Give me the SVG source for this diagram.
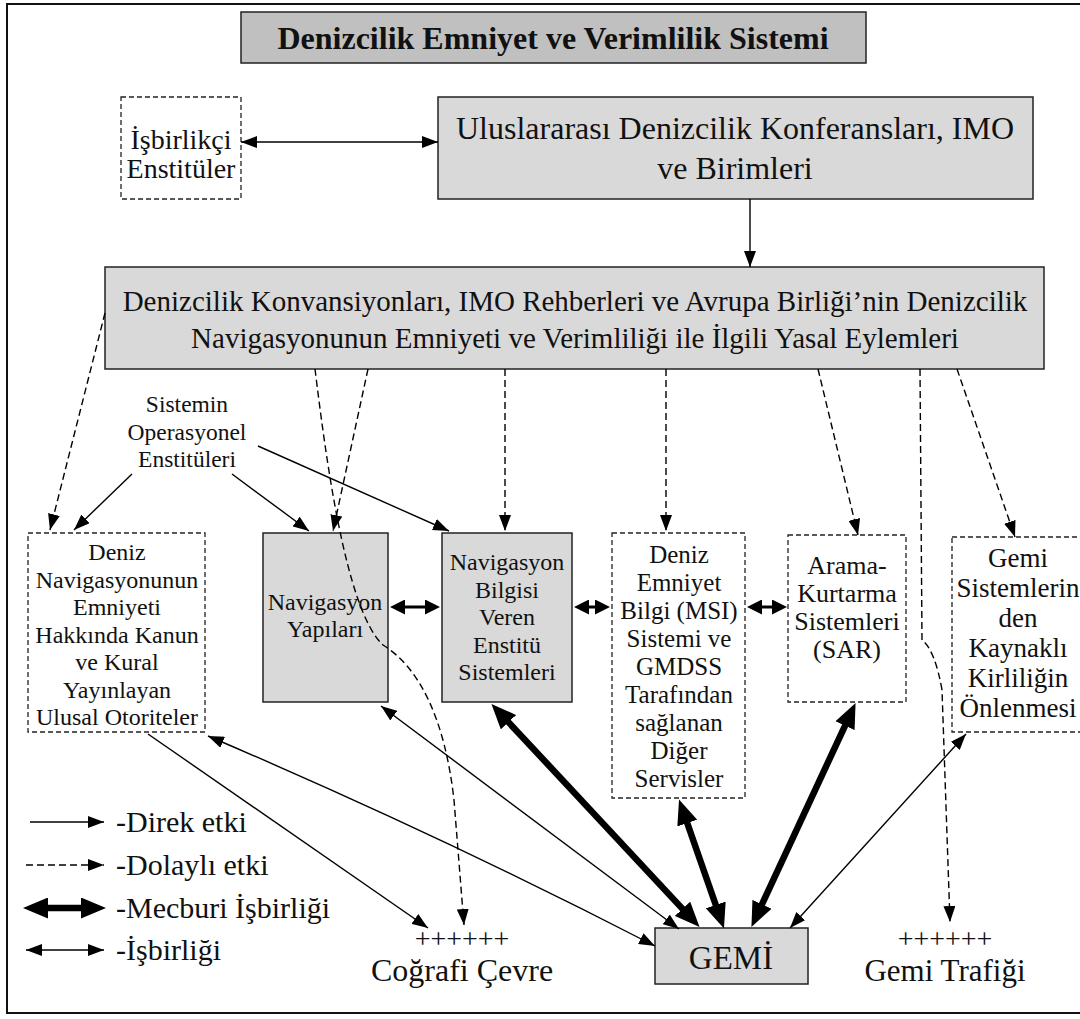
<svg xmlns="http://www.w3.org/2000/svg" width="1080" height="1019" viewBox="0 0 1080 1019">
<style>
text{font-family:"Liberation Serif","Times New Roman",serif;fill:#111;text-anchor:middle}
.t24{font-size:24px}.t25{font-size:25px}.t26{font-size:26px}.t27{font-size:27px}.t28{font-size:28px}.t29{font-size:29px}.t32{font-size:32px}
.box{fill:#d9d9d9;stroke:#222;stroke-width:1.5}
.dbox{fill:#fff;stroke:#222;stroke-width:1.3;stroke-dasharray:5 3}
.ln{fill:none;stroke:#000;stroke-width:1.4}
.dl{fill:none;stroke:#000;stroke-width:1.4;stroke-dasharray:7 4}
.thk{fill:none;stroke:#000;stroke-width:6.5}
.med{fill:none;stroke:#000;stroke-width:3}
.lg{text-anchor:start;font-size:30px}
</style>
<defs>
<marker id="a" viewBox="0 0 16 12" markerWidth="16" markerHeight="12" refX="16" refY="6" orient="auto-start-reverse" markerUnits="userSpaceOnUse"><path d="M0,0 L16,6 L0,12 z"/></marker>
<marker id="m" viewBox="0 0 15 15" markerWidth="15" markerHeight="15" refX="11" refY="7.5" orient="auto-start-reverse" markerUnits="userSpaceOnUse"><path d="M0,0 L15,7.5 L0,15 z"/></marker>
<marker id="k" viewBox="0 0 25 21" markerWidth="25" markerHeight="21" refX="12" refY="10.5" orient="auto-start-reverse" markerUnits="userSpaceOnUse"><path d="M0,0 L25,10.5 L0,21 z"/></marker>
</defs>
<rect x="7" y="4" width="1090" height="1009" fill="#fff" stroke="#111" stroke-width="2"/>

<g id="title"><rect x="241" y="12" width="625" height="51" fill="#c0c0c0" stroke="#222" stroke-width="1.5"/><text x="553" y="49" style="font-size:32px;font-weight:bold">Denizcilik Emniyet ve Verimlilik Sistemi</text></g>

<g id="isbirlikci"><rect class="dbox" x="121" y="97" width="120" height="102"/><text class="t28" x="181" y="149">İşbirlikçi</text><text class="t28" x="181" y="178">Enstitüler</text></g>

<g id="uluslararasi"><rect class="box" x="438" y="97" width="595" height="102"/><text class="t32" x="735" y="139">Uluslararası Denizcilik Konferansları, IMO</text><text class="t32" x="735" y="179">ve Birimleri</text></g>

<g id="konvansiyon"><rect class="box" x="105" y="267" width="939" height="102"/><text class="t29" x="575" y="311">Denizcilik Konvansiyonları, IMO Rehberleri ve Avrupa Birliği’nin Denizcilik</text><text class="t29" x="575" y="348">Navigasyonunun Emniyeti ve Verimliliği ile İlgili Yasal Eylemleri</text></g>

<g id="sistemin" style="font-size:23.5px"><text x="187" y="412">Sistemin</text><text x="187" y="440">Operasyonel</text><text x="187" y="467">Enstitüleri</text></g>

<g id="ulusal-otoriteler"><rect class="dbox" x="28" y="533" width="177" height="199"/>
<text class="t24" x="117" y="560">Deniz</text><text class="t24" x="117" y="587.5">Navigasyonunun</text><text class="t24" x="117" y="615">Emniyeti</text><text class="t24" x="117" y="642.5">Hakkında Kanun</text><text class="t24" x="117" y="670">ve Kural</text><text class="t24" x="117" y="697.5">Yayınlayan</text><text class="t24" x="117" y="725">Ulusal Otoriteler</text></g>

<g id="nav-yapilari"><rect class="box" x="263" y="533" width="125" height="169"/><text class="t24" x="325" y="610">Navigasyon</text><text class="t24" x="325" y="637">Yapıları</text></g>

<g id="nav-bilgisi"><rect class="box" x="442" y="533" width="130" height="169"/><text class="t24" x="507" y="570">Navigasyon</text><text class="t24" x="507" y="597.5">Bilgisi</text><text class="t24" x="507" y="625">Veren</text><text class="t24" x="507" y="652.5">Enstitü</text><text class="t24" x="507" y="680">Sistemleri</text></g>

<g id="msi"><rect class="dbox" x="612" y="533" width="133" height="265"/>
<text class="t25" x="679" y="563">Deniz</text><text class="t25" x="679" y="591">Emniyet</text><text class="t25" x="679" y="619">Bilgi (MSI)</text><text class="t25" x="679" y="647">Sistemi ve</text><text class="t25" x="679" y="675">GMDSS</text><text class="t25" x="679" y="703">Tarafından</text><text class="t25" x="679" y="731">sağlanan</text><text class="t25" x="679" y="759">Diğer</text><text class="t25" x="679" y="787">Servisler</text></g>

<g id="sar"><rect class="dbox" x="788" y="535" width="118" height="167"/><text class="t26" x="847" y="574">Arama-</text><text class="t26" x="847" y="602">Kurtarma</text><text class="t26" x="847" y="630">Sistemleri</text><text class="t26" x="847" y="658">(SAR)</text></g>

<g id="kirlilik"><rect class="dbox" x="952" y="537" width="140" height="195"/><text class="t27" x="1018" y="567">Gemi</text><text class="t27" x="1018" y="597">Sistemlerin</text><text class="t27" x="1018" y="627">den</text><text class="t27" x="1018" y="657">Kaynaklı</text><text class="t27" x="1018" y="687">Kirliliğin</text><text class="t27" x="1018" y="717">Önlenmesi</text></g>

<g id="gemi"><rect class="box" x="655" y="928" width="153" height="56"/><text x="731" y="969" style="font-size:33px">GEMİ</text></g>

<g id="cografi"><text class="t28" x="462" y="948">++++++</text><text class="t32" x="462" y="981">Coğrafi Çevre</text></g>

<g id="trafik"><text class="t28" x="945" y="948">++++++</text><text x="945" y="981" style="font-size:31px">Gemi Trafiği</text></g>

<g id="connectors">
<path class="ln" marker-start="url(#a)" marker-end="url(#a)" d="M241,142 L438,142"/>
<path class="ln" marker-end="url(#a)" d="M750,199 L750,267"/>
<path class="ln" marker-end="url(#a)" d="M132,474 L74,530"/>
<path class="ln" marker-end="url(#a)" d="M232,474 L309,531"/>
<path class="ln" marker-end="url(#a)" d="M258,446 L449,531"/>
<path class="ln" marker-end="url(#a)" d="M148,734 L428,928"/>
<path class="ln" marker-start="url(#a)" marker-end="url(#a)" d="M208,736 Q440,835 655,946"/>
<path class="ln" marker-start="url(#a)" marker-end="url(#a)" d="M381,706 L679,929"/>
<path class="ln" marker-start="url(#a)" marker-end="url(#a)" d="M966,734 L790,928"/>
<path class="thk" marker-start="url(#k)" marker-end="url(#k)" d="M500.3,713.4 L690.7,917.6"/>
<path class="thk" marker-start="url(#k)" marker-end="url(#k)" d="M683.3,811.7 L719.7,916.3"/>
<path class="thk" marker-start="url(#k)" marker-end="url(#k)" d="M850.1,714.8 L756.9,915.2"/>
<path class="med" marker-start="url(#m)" marker-end="url(#m)" d="M394,607 L436,607"/>
<path class="med" marker-start="url(#m)" marker-end="url(#m)" d="M578,607 L606,607"/>
<path class="med" marker-start="url(#m)" marker-end="url(#m)" d="M751,607 L783,607"/>
<path class="dl" marker-end="url(#a)" d="M105,313 L50,530"/>
<path class="dl" marker-end="url(#a)" d="M368,369 L333,531"/>
<path class="dl" marker-end="url(#a)" d="M315,369 C325,450 345,610 383,645 C420,668 445,720 454,800 L464,925"/>
<path class="dl" marker-end="url(#a)" d="M505,369 L505,531"/>
<path class="dl" marker-end="url(#a)" d="M666,369 L666,531"/>
<path class="dl" marker-end="url(#a)" d="M818,369 L858,535"/>
<path class="dl" marker-end="url(#a)" d="M920,369 L922,640 Q935,650 942,690 L950,922"/>
<path class="dl" marker-end="url(#a)" d="M957,369 L1015,537"/>
</g>

<g id="legend">
<path class="ln" marker-end="url(#a)" d="M30,822 L104,822"/><text class="lg" x="116" y="832">-Direk etki</text>
<path class="dl" marker-end="url(#a)" d="M26,865 L104,865"/><text class="lg" x="116" y="875">-Dolaylı etki</text>
<path class="thk" marker-start="url(#k)" marker-end="url(#k)" d="M36,908 L93,908"/><text class="lg" x="116" y="918">-Mecburi İşbirliği</text>
<path class="ln" marker-start="url(#a)" marker-end="url(#a)" d="M26,950 L104,950"/><text class="lg" x="116" y="960">-İşbirliği</text>
</g>
</svg>
